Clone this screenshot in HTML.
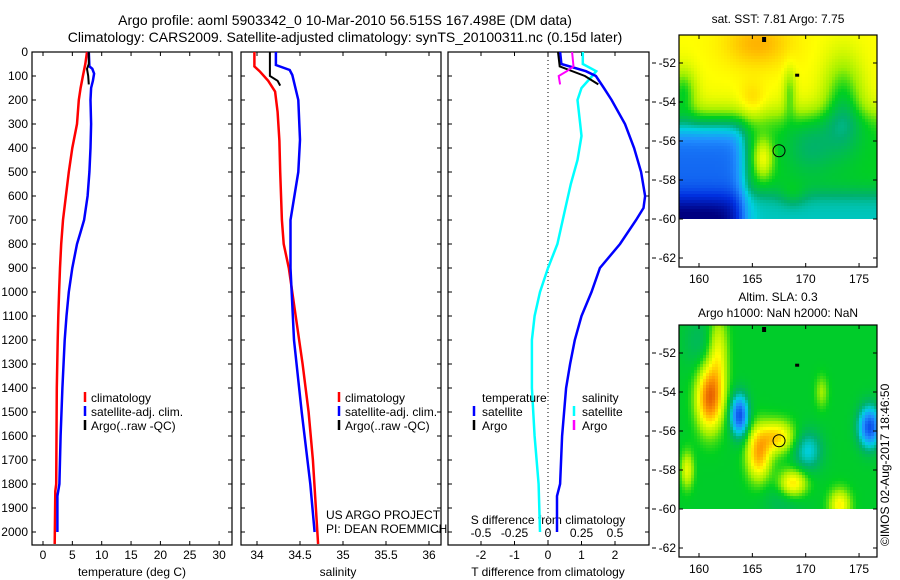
<!DOCTYPE html>
<html><head><meta charset="utf-8"><style>
html,body{margin:0;padding:0;background:#fff;}
svg{display:block;font-family:"Liberation Sans",sans-serif;}
text{font-size:12px;fill:#000;}
</style></head><body>
<svg id="fig" width="900" height="580" viewBox="0 0 900 580">
<text x="345" y="25" text-anchor="middle" style="font-size:14px">Argo profile: aoml 5903342_0 10-Mar-2010 56.515S 167.498E (DM data)</text>
<text x="345" y="42" text-anchor="middle" style="font-size:14px">Climatology: CARS2009. Satellite-adjusted climatology: synTS_20100311.nc (0.15d later)</text>
<g id="g1"></g>
<g id="g2"></g>
<g id="g3"></g>
<g id="m1"></g>
<g id="m2"></g>
<text transform="translate(889,546) rotate(-90)" style="font-size:12px">©IMOS 02-Aug-2017 18:46:50</text>
</svg>
<script>
// ---- data ----
const depthTicks=[0,100,200,300,400,500,600,700,800,900,1000,1100,1200,1300,1400,1500,1600,1700,1800,1900,2000];
const tempTicks=[0,5,10,15,20,25,30];
const salTicks=[34,34.5,35,35.5,36];
const salTickLabels=["34","34.5","35","35.5","36"];
const tdiffTicks=[-2,-1,0,1,2];
const sdiffTicks=[-0.5,-0.25,0,0.25,0.5];
const sdiffTickLabels=["-0.5","-0.25","0","0.25","0.5"];
const latTicks=[-52,-54,-56,-58,-60,-62];
const lonTicks=[160,165,170,175];

const tClimDepth=[0,50,100,150,200,300,400,500,600,700,800,900,1000,1100,1200,1400,1600,1800,1830,2050];
const tClimVal=[7.5,7.2,6.8,6.4,6.1,5.8,5.0,4.4,3.9,3.4,3.1,2.9,2.75,2.6,2.5,2.35,2.3,2.25,2.1,2.0];
const tSatDepth=[0,60,70,90,120,150,200,300,400,500,600,700,750,800,900,1000,1100,1200,1400,1600,1800,1850,2000];
const tSatVal=[7.8,7.9,8.4,8.7,8.5,8.2,8.1,8.2,8.1,7.9,7.6,7.0,6.4,5.8,5.0,4.4,4.0,3.7,3.3,3.0,2.8,2.45,2.45];
const tArgoDepth=[0,50,70,100,135];
const tArgoVal=[7.8,7.8,7.5,7.7,7.8];

const sClimDepth=[0,60,80,120,165,250,370,500,700,800,900,1100,1300,1500,1700,2050];
const sClimVal=[33.97,33.97,34.03,34.13,34.21,34.24,34.26,34.27,34.29,34.31,34.37,34.45,34.53,34.6,34.65,34.71];
const sSatDepth=[0,54,75,96,200,366,500,700,900,1200,1500,1800,2000];
const sSatVal=[34.22,34.22,34.38,34.41,34.48,34.5,34.48,34.39,34.39,34.43,34.52,34.62,34.67];
const sArgoDepth=[0,100,120,140];
const sArgoVal=[34.15,34.15,34.24,34.27];

const dTSatDepth=[0,50,80,100,150,200,300,400,500,600,650,700,800,900,1000,1100,1200,1300,1400,1600,1800,1850,2000];
const dTSatVal=[0.36,0.4,1.13,1.43,1.67,1.9,2.3,2.57,2.78,2.9,2.85,2.63,2.15,1.55,1.3,1.0,0.8,0.66,0.54,0.42,0.36,0.27,0.27];
const dSSatDepth=[0,50,80,100,150,200,300,350,450,550,650,800,900,1000,1100,1200,1400,1600,1800,2000];
const dSSatVal=[0.26,0.26,0.36,0.33,0.25,0.22,0.24,0.25,0.22,0.17,0.13,0.07,0.0,-0.06,-0.10,-0.12,-0.12,-0.10,-0.07,-0.06];
const dTArgoDepth=[0,60,100,135];
const dTArgoVal=[0.3,0.35,1.1,1.5];
const dSArgoDepth=[0,60,80,100,135];
const dSArgoVal=[0.18,0.19,0.14,0.08,0.09];

// ---- helpers ----
const NS="http://www.w3.org/2000/svg";
function mk(tag,attrs,parent){const e=document.createElementNS(NS,tag);for(const k in attrs)e.setAttribute(k,attrs[k]);parent.appendChild(e);return e;}
const yTop=52,yBot=545;
function yD(d){return yTop+d*0.24;}

function panel(g,x0,x1,name){
  const r=mk('rect',{x:x0,y:yTop,width:x1-x0,height:yBot-yTop,fill:'none',stroke:'#000','stroke-width':1.2},g);
  
  
  depthTicks.forEach(d=>{
    const y=yD(d);
    mk('line',{x1:x0,x2:x0+4,y1:y,y2:y,stroke:'#000'},g);
    mk('line',{x1:x1,x2:x1-4,y1:y,y2:y,stroke:'#000'},g);
  });
}
function xticks(g,ticks,labels,fx,name){
  ticks.forEach((t,i)=>{
    const x=fx(t);
    mk('line',{x1:x,x2:x,y1:yBot,y2:yBot-4,stroke:'#000'},g);
    mk('line',{x1:x,x2:x,y1:yTop,y2:yTop+4,stroke:'#000'},g);
    const tx=mk('text',{x:x,y:559,'text-anchor':'middle'},g);
    tx.textContent=labels[i];
    
    
  });
}
function line(g,depths,vals,fx,color,name,w){
  const pts=depths.map((d,i)=>fx(vals[i]).toFixed(1)+','+yD(d).toFixed(1)).join(' ');
  const p=mk('polyline',{points:pts,fill:'none',stroke:color,'stroke-width':w||2.5},g);
  
  
}
function txt(g,x,y,s,name,anchor){
  const t=mk('text',{x:x,y:y,'text-anchor':anchor||'start'},g);
  t.textContent=s;
  
  
  return t;
}
function legendMark(g,x,y,color){mk('line',{x1:x,x2:x,y1:y-10,y2:y,stroke:color,'stroke-width':2.5},g);}

// ---- panel 1 ----
const g1=document.getElementById('g1');
const fT=t=>43+t*5.87;
panel(g1,32,232,'temperature-panel');
depthTicks.forEach(d=>{ txt(g1,28,yD(d)+4,String(d),'depth-tick-label','end'); });
xticks(g1,tempTicks,tempTicks.map(String),fT,'temperature');
line(g1,tClimDepth,tClimVal,fT,'#ff0000','temp-climatology-line');
line(g1,tSatDepth,tSatVal,fT,'#0000ff','temp-satellite-line');
line(g1,tArgoDepth,tArgoVal,fT,'#000000','temp-argo-line',2);
txt(g1,132,576,'temperature (deg C)','temperature-axis-title','middle');
legendMark(g1,85,402,'#ff0000');txt(g1,91,402,'climatology','legend-climatology');
legendMark(g1,85,416,'#0000ff');txt(g1,91,416,'satellite-adj. clim.','legend-satellite');
legendMark(g1,85,430,'#000');txt(g1,91,430,'Argo(..raw -QC)','legend-argo');

// ---- panel 2 ----
const g2=document.getElementById('g2');
const fS=s=>257+(s-34)*86;
panel(g2,241,441,'salinity-panel');
xticks(g2,salTicks,salTickLabels,fS,'salinity');
line(g2,sClimDepth,sClimVal,fS,'#ff0000','sal-climatology-line');
line(g2,sSatDepth,sSatVal,fS,'#0000ff','sal-satellite-line');
line(g2,sArgoDepth,sArgoVal,fS,'#000000','sal-argo-line',2);
txt(g2,338,576,'salinity','salinity-axis-title','middle');
legendMark(g2,339,402,'#ff0000');txt(g2,345,402,'climatology','legend-climatology');
legendMark(g2,339,416,'#0000ff');txt(g2,345,416,'satellite-adj. clim.','legend-satellite');
legendMark(g2,339,430,'#000');txt(g2,345,430,'Argo(..raw -QC)','legend-argo');
txt(g2,326,519,'US ARGO PROJECT','credit-project');
txt(g2,326,533,'PI: DEAN ROEMMICH','credit-pi');

// ---- panel 3 ----
const g3=document.getElementById('g3');
const fDT=t=>548+t*33.5;
const fDS=s=>548+s*134;
panel(g3,448,649,'difference-panel');
xticks(g3,tdiffTicks,tdiffTicks.map(String),fDT,'tdiff');
mk('line',{x1:548,x2:548,y1:yTop,y2:yBot,stroke:'#000','stroke-dasharray':'1,3'},g3);
sdiffTicks.forEach((s,i)=>{txt(g3,fDS(s),537,sdiffTickLabels[i],'sdiff-tick-label','middle');});
txt(g3,548,524,'S difference from climatology','sdiff-axis-title','middle');
txt(g3,548,576,'T difference from climatology','tdiff-axis-title','middle');
line(g3,dSSatDepth,dSSatVal,fDS,'#00ffff','sdiff-satellite-line');
line(g3,dTSatDepth,dTSatVal,fDT,'#0000ff','tdiff-satellite-line');
line(g3,dTArgoDepth,dTArgoVal,fDT,'#000000','tdiff-argo-line',2);
line(g3,dSArgoDepth,dSArgoVal,fDS,'#ff00ff','sdiff-argo-line',2);
txt(g3,482,402,'temperature','legend-temperature-header');
legendMark(g3,474,416,'#0000ff');txt(g3,482,416,'satellite','legend-t-satellite');
legendMark(g3,474,430,'#000');txt(g3,482,430,'Argo','legend-t-argo');
txt(g3,582,402,'salinity','legend-salinity-header');
legendMark(g3,574,416,'#00ffff');txt(g3,582,416,'satellite','legend-s-satellite');
legendMark(g3,574,430,'#ff00ff');txt(g3,582,430,'Argo','legend-s-argo');

// ---- maps ----
const stops=[[0,[0,0,128]],[0.15,[0,48,224]],[0.3,[32,144,255]],[0.4,[0,208,224]],[0.47,[0,176,112]],[0.55,[0,208,32]],[0.62,[160,240,0]],[0.7,[255,255,0]],[0.8,[255,160,0]],[0.9,[224,80,0]],[1,[160,0,0]]];
function cmap(v){v=Math.max(0,Math.min(1,v));for(let i=1;i<stops.length;i++){if(v<=stops[i][0]){const a=stops[i-1],b=stops[i];const f=(v-a[0])/(b[0]-a[0]);return 'rgb('+a[1].map((c,k)=>Math.round(c+(b[1][k]-c)*f)).join(',')+')';}}return 'rgb(160,0,0)';}
const sg=x=>1/(1+Math.exp(-x));
const gs=(lon,lat,cx,cy,sx,sy)=>Math.exp(-(((lon-cx)/sx)**2+((lat-cy)/sy)**2));
function sst(lon,lat){
  let v=0.55+0.15*sg((lat+54.6)/0.4);
  v+=0.08*gs(lon,lat,165.5,-51,3,1.2);
  v+=0.05*gs(lon,lat,165,-54,1.2,1);
  v-=0.15*gs(lon,lat,173.5,-54,1.8,2.2);
  v-=0.1*gs(lon,lat,168.5,-53.5,0.6,1.2);
  v-=0.14*gs(lon,lat,158.5,-53.5,1.2,1.2);
  v-=0.25*sg((-55.5-lat)/0.35)*sg((164-lon)/0.4);
  v-=0.06*sg((-54.8-lat)/0.3)*sg((164.5-lon)/0.4);
  v-=0.13*sg((-58.7-lat)/0.3);
  v-=0.14*sg((-59.3-lat)/0.25)*sg((163-lon)/0.6);
  v+=0.14*gs(lon,lat,166,-56.9,0.9,1.0);
  v-=0.07*gs(lon,lat,170.5,-56.3,2.2,1.4);
  v+=0.05*gs(lon,lat,168.8,-58.8,1.2,0.6);
  return v;
}
function sla(lon,lat){
  let v=0.54;
  v+=0.32*gs(lon,lat,161,-54.3,1.2,1.6)+0.14*gs(lon,lat,161.8,-52,0.9,2.0);
  v-=0.34*gs(lon,lat,163.8,-55.2,0.8,1.0);
  v-=0.34*gs(lon,lat,176,-55.8,1.0,1.0);
  v+=0.24*gs(lon,lat,165.6,-57.2,1.1,1.3)+0.2*gs(lon,lat,167.3,-56.3,1.6,0.8);
  v+=0.2*gs(lon,lat,168.8,-58.7,1.3,0.7);
  v+=0.17*gs(lon,lat,173.2,-59.8,1.0,0.8);
  v+=0.14*gs(lon,lat,158.9,-58,0.6,0.9);
  v-=0.14*gs(lon,lat,170.2,-57,1.3,1.0);
  v+=0.08*gs(lon,lat,171.5,-54,0.6,0.8);
  v-=0.05*gs(lon,lat,160,-51.5,1.5,1.5);
  v-=0.05*gs(lon,lat,168,-59.5,2,1);
  return v;
}
function drawMap(id,dy,field,title1,t1y,title2,t2y){
  const g=document.getElementById(id);
  const x0=679,x1=877,top=35+dy,bot=267+dy;
  const fx=lon=>699+(lon-160)*10.67;
  const fy=lat=>63+dy+(-52-lat)*19.5;
  const dataBot=fy(-60);
  const cell=3;
  for(let y=top;y<dataBot;y+=cell){for(let x=x0;x<x1;x+=cell){
    const lon=160+(x+1.5-699)/10.67, lat=-52-(y+1.5-63-dy)/19.5;
    mk('rect',{x:x,y:y,width:cell,height:Math.min(cell,dataBot-y),fill:cmap(field(lon,lat))},g);
  }}
  mk('rect',{x:x0,y:top,width:x1-x0,height:bot-top,fill:'none',stroke:'#000','stroke-width':1.2},g);
  latTicks.forEach(l=>{const y=fy(l);
    mk('line',{x1:x0,x2:x0+4,y1:y,y2:y,stroke:'#000'},g);
    mk('line',{x1:x1,x2:x1-4,y1:y,y2:y,stroke:'#000'},g);
    mk('line',{x1:652,x2:656,y1:y,y2:y,stroke:'#000'},g);
    txt(g,676,y+4,String(l),'lat-tick-label','end');});
  lonTicks.forEach(l=>{const x=fx(l);
    mk('line',{x1:x,x2:x,y1:bot,y2:bot-4,stroke:'#000'},g);
    mk('line',{x1:x,x2:x,y1:top,y2:top+4,stroke:'#000'},g);
    txt(g,x,bot+16,String(l),'lon-tick-label','middle');});
  const c=mk('circle',{cx:fx(167.5),cy:fy(-56.5),r:6,fill:'none',stroke:'#000','stroke-width':1},g);
  
  
  mk('rect',{x:fx(166.1)-2,y:top+2,width:4,height:5,fill:'#000'},g);
  mk('rect',{x:fx(169.2)-2,y:fy(-52.6)-1,width:4,height:3,fill:'#000'},g);
  txt(g,778,t1y,title1,'map-title','middle');
  if(title2)txt(g,778,t2y,title2,'map-subtitle','middle');
}
drawMap('m1',0,sst,'sat. SST: 7.81 Argo: 7.75',23);
drawMap('m2',290,sla,'Altim. SLA: 0.3',301,'Argo h1000: NaN h2000: NaN',317);
</script>
</body></html>
